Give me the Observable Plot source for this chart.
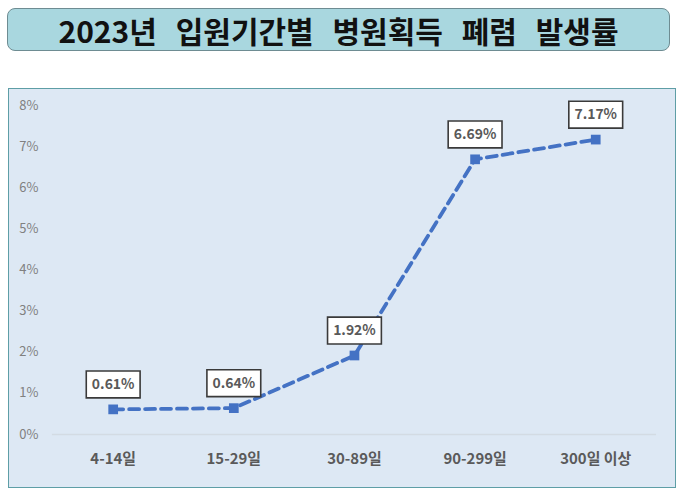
<!DOCTYPE html>
<html>
<head>
<meta charset="utf-8">
<script src="https://cdn.jsdelivr.net/npm/d3@7"></script>
<script src="https://cdn.jsdelivr.net/npm/@observablehq/plot@0.6"></script>
<style>
  body { margin: 0; background: #ffffff; width: 680px; height: 490px; position: relative; overflow: hidden; font-family: "Noto Sans CJK KR", "Noto Sans", sans-serif; }
  #title { position: absolute; left: 7px; top: 8px; width: 663px; height: 43px; background: #a9d7df; border: 1.5px solid #6e8c92; border-radius: 8px; box-sizing: border-box; display: flex; align-items: center; justify-content: center; font-weight: 700; font-size: 30px; color: #111; word-spacing: 12px; white-space: nowrap; line-height: 1; }
  #panel { position: absolute; left: 8px; top: 88px; width: 668px; height: 400px; background: #dde8f4; border: 1.5px solid #5e9ea6; box-sizing: border-box; }
  #panel svg { position: absolute; left: -1.5px; top: -0.5px; }
</style>
</head>
<body>
<div id="title">2023년 입원기간별 병원획득 폐렴 발생률</div>
<div id="panel"></div>
<script>
const categories = ["4-14일", "15-29일", "30-89일", "90-299일", "300일 이상"];
const rates = [0.61, 0.64, 1.92, 6.69, 7.17];
const yTicks = [0, 1, 2, 3, 4, 5, 6, 7, 8];

const data = categories.map((c, i) => ({cat: c, v: rates[i]}));

const boxSymbol = {
  draw(context) {
    const w = 54, h = 27;
    context.rect(-w / 2, -h / 2, w, h);
  }
};

const chart = Plot.plot({
  width: 668,
  height: 400,
  marginLeft: 44,
  marginRight: 18,
  marginTop: 16,
  marginBottom: 54,
  style: { background: "transparent", fontFamily: "'Noto Sans CJK KR', 'Noto Sans', sans-serif" },
  x: { type: "point", domain: categories, padding: 0.5, label: null },
  y: { domain: [0, 8], label: null },
  marks: [
    Plot.ruleY([0], { stroke: "#d3dbe3", strokeWidth: 1.5 }),
    Plot.axisY({ ticks: yTicks, tickSize: 0, tickPadding: 14, tickFormat: d => d + "%", fill: "#808080", fontSize: 13, label: null }),
    Plot.axisX({ tickSize: 0, tickPadding: 19, fill: "#5a5a5a", fontSize: 15, fontWeight: "bold", label: null }),
    Plot.line(data, { x: "cat", y: "v", stroke: "#4472c4", strokeWidth: 3.8, strokeDasharray: "10,6" }),
    Plot.dot(data, { x: "cat", y: "v", symbol: "square", r: 5.5, fill: "#4472c4", stroke: "none" }),
    Plot.dot(data, { x: "cat", y: "v", symbol: boxSymbol, r: 5, fill: "white", stroke: "#3a3a3a", strokeWidth: 1.6, dy: -25 }),
    Plot.text(data, { x: "cat", y: "v", text: d => d.v.toFixed(2) + "%", dy: -25, fill: "#595959", fontSize: 14, fontWeight: "bold" })
  ]
});
document.getElementById("panel").appendChild(chart);
</script>
</body>
</html>
